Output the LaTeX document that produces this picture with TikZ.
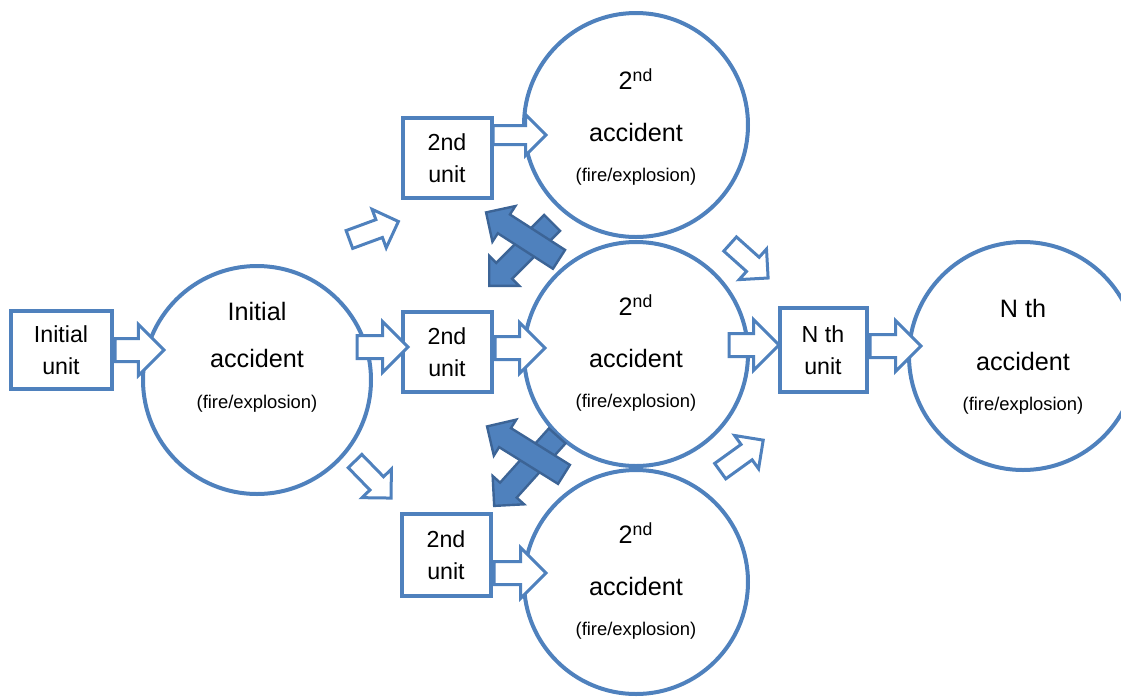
\documentclass[tikz,border=0pt]{standalone}
\usepackage{fontspec}
\setmainfont{Liberation Sans}
\usepackage{tikz}
\usetikzlibrary{arrows.meta,positioning,calc,shapes.geometric,shapes.arrows}
\definecolor{accblue}{RGB}{79,129,189}
\definecolor{accdark}{RGB}{60,100,150}

% block arrow from #2 (tail) to #3 (tip)
\newcommand{\blk}[3][]{%
  \path let \p1=(#2), \p2=(#3), \n1={atan2(\y2-\y1,\x2-\x1)}, \n2={veclen(\x2-\x1,\y2-\y1)} in
    node[hollow,#1,anchor=tail,rotate=\n1,minimum height=\n2] at (\p1) {};}

\begin{document}
\begin{tikzpicture}[x=0.5pt,y=-0.5pt,
  box/.style={draw=accblue,line width=2pt,fill=white,align=center,inner sep=0pt,font=\fontsize{11.6}{16}\selectfont},
  acc/.style={circle,draw=accblue,line width=2pt,inner sep=0pt},
  big/.style={font=\fontsize{12.6}{15}\selectfont},
  small/.style={font=\fontsize{9.2}{11}\selectfont},
  hollow/.style={single arrow,draw=accblue,line width=1.5pt,fill=white,inner xsep=0pt,inner ysep=5pt,
    text height=0pt,text depth=0pt,single arrow head extend=7pt},
  slim/.style={inner ysep=4pt,single arrow head extend=5.5pt},
  cross/.style={fill=accblue,draw=accdark,line width=1.2pt,inner ysep=5pt,single arrow head extend=5pt}]
  \useasboundingbox (0,0) rectangle (1121,698);

  \node[acc,minimum size=114pt] (c0) at (257,380) {};
  \node[acc,minimum size=112pt] (c2a) at (636,125) {};
  \node[acc,minimum size=112pt] (c2b) at (636,354) {};
  \node[acc,minimum size=112pt] (c2c) at (636,582) {};
  \node[acc,minimum size=114pt] (cn) at (1023,356) {};

  \node[box,minimum width=50.5pt,minimum height=39pt] (iu) at (61,350) {Initial\\unit};
  \node[box,minimum width=44.5pt,minimum height=40pt] (u2a) at (447,158) {2nd\\unit};
  \node[box,minimum width=44.5pt,minimum height=40pt] (u2b) at (447,352) {2nd\\unit};
  \node[box,minimum width=44.5pt,minimum height=41pt] (u2c) at (446,555) {2nd\\unit};
  \node[box,minimum width=43.5pt,minimum height=42pt] (un) at (823,350) {N th\\unit};

  \node[big] (c0-l1) at ($(c0)+(0,-69)$) {Initial};
  \node[big] (c0-l2) at ($(c0)+(0,-22)$) {accident};
  \node[small] (c0-l3) at ($(c0)+(0,24)$) {(fire/explosion)};
  \foreach \c/\d/\t in {c2a/3/{2\textsuperscript{nd}},c2b/0/{2\textsuperscript{nd}},c2c/0/{2\textsuperscript{nd}},cn/1/{N th}} {
    \node[big] (\c-l1) at ($(\c)+(0,-49+\d)$) {\t};
    \node[big] (\c-l2) at ($(\c)+(0,4+\d)$) {accident};
    \node[small] (\c-l3) at ($(\c)+(0,49+\d)$) {(fire/explosion)};
  }

  \blk{iu.east}{$(iu.east)+(49,0)$}
  \blk{$(u2b.west)+(-45,-5)$}{$(u2b.west)+(6,-5)$}
  \blk[slim]{$(u2a.east)+(-2,-23)$}{$(u2a.east)+(51,-23)$}
  \blk{$(u2b.east)+(0,-4)$}{$(u2b.east)+(50,-4)$}
  \blk{$(u2c.east)+(0,18)$}{$(u2c.east)+(52,18)$}
  \blk{$(un.west)+(-50,-5)$}{$(un.west)+(0,-5)$}
  \blk{$(un.east)+(0,-4)$}{$(un.east)+(51,-4)$}
  \foreach \xa/\ya/\xb/\yb in {348/240/397/222,354/460/390/497,729/243/767/277,719/472/762/441}
    {\blk[slim]{\xa,\ya}{\xb,\yb}}
  \foreach \xa/\ya/\xb/\yb in {553/222/490/285,560/260/487/213,558/435/495/505,565/475/488/427}
    {\blk[cross]{\xa,\ya}{\xb,\yb}}
\end{tikzpicture}
\end{document}
